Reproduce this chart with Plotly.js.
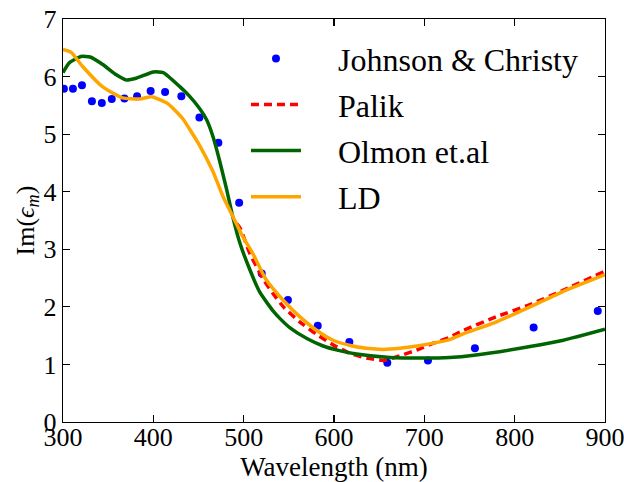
<!DOCTYPE html>
<html>
<head>
<meta charset="utf-8">
<script src="https://cdn.plot.ly/plotly-3.0.1.min.js"></script>
<style>html,body{margin:0;padding:0;background:#fff;}#chart{width:624px;height:482px;}</style>
</head>
<body>
<div id="chart"></div>
<script>
// Johnson & Christy (measured points)
const jcWavelength = [301, 311, 321, 332, 343, 354, 368, 382, 397, 413, 431, 451, 472, 495, 520, 549, 582, 617, 659, 704, 756, 821, 892];
const jcIm = [5.79, 5.79, 5.85, 5.57, 5.54, 5.61, 5.62, 5.66, 5.75, 5.73, 5.66, 5.29, 4.85, 3.81, 2.58, 2.12, 1.67, 1.39, 1.03, 1.07, 1.28, 1.64, 1.93];

// Palik
const palikWavelength = [492, 496, 507, 521, 532, 544, 562, 580, 599, 618, 636, 655, 673, 695, 710, 728, 743, 780, 817, 854, 900];
const palikIm = [3.45, 3.37, 2.92, 2.50, 2.24, 2.00, 1.74, 1.53, 1.34, 1.19, 1.11, 1.07, 1.15, 1.27, 1.37, 1.47, 1.59, 1.83, 2.04, 2.29, 2.62];

// Olmon et.al
const olmonWavelength = [300, 307, 320, 330, 344, 359, 370, 381, 400, 411, 429, 440, 451, 459, 466, 473, 481, 488, 496, 507, 518, 533, 540, 551, 570, 588, 606, 625, 662, 699, 728, 755, 817, 854, 900];
const olmonIm = [6.07, 6.24, 6.35, 6.34, 6.21, 6.03, 5.94, 5.97, 6.08, 6.07, 5.83, 5.66, 5.45, 5.25, 4.96, 4.56, 4.05, 3.56, 3.10, 2.64, 2.25, 1.92, 1.80, 1.64, 1.45, 1.32, 1.24, 1.18, 1.12, 1.11, 1.12, 1.16, 1.31, 1.42, 1.61];

// LD model
const ldWavelength = [300, 309, 322, 344, 366, 385, 398, 416, 432, 451, 466, 477, 488, 499, 510, 525, 544, 562, 581, 599, 618, 636, 655, 673, 692, 710, 728, 743, 780, 817, 854, 900];
const ldIm = [6.47, 6.42, 6.17, 5.82, 5.63, 5.61, 5.65, 5.53, 5.28, 4.81, 4.35, 3.92, 3.57, 3.22, 2.93, 2.47, 2.11, 1.83, 1.59, 1.42, 1.33, 1.28, 1.26, 1.28, 1.32, 1.37, 1.43, 1.53, 1.74, 2.00, 2.27, 2.56];

const xTicks = [300, 400, 500, 600, 700, 800, 900];
const yTicks = [0, 1, 2, 3, 4, 5, 6, 7];
const seriesNames = ['Johnson &amp; Christy', 'Palik', 'Olmon et.al', 'LD'];

const serif = '"Liberation Serif", "Times New Roman", Times, serif';
const pad = '&nbsp;&nbsp;&nbsp;&nbsp;';

const traces = [
  {x: jcWavelength, y: jcIm, name: pad + seriesNames[0], legendgroup: 'g0', mode: 'markers', type: 'scatter',
   marker: {color: '#0000ff', size: 8}},
  {x: palikWavelength, y: palikIm, name: pad + seriesNames[1], legendgroup: 'g1', mode: 'lines', type: 'scatter',
   line: {color: '#ff0000', width: 3.5, dash: '8px,5px', shape: 'spline', smoothing: 0.5}},
  {x: olmonWavelength, y: olmonIm, name: pad + seriesNames[2], legendgroup: 'g2', mode: 'lines', type: 'scatter',
   line: {color: '#006400', width: 3.5, shape: 'spline', smoothing: 0.5}},
  {x: ldWavelength, y: ldIm, name: pad + seriesNames[3], legendgroup: 'g3', mode: 'lines', type: 'scatter',
   line: {color: '#ffa500', width: 3.5, shape: 'spline', smoothing: 0.5}}
];

const axisCommon = {
  showgrid: false, zeroline: false, showline: true, linecolor: '#000', linewidth: 1.3,
  mirror: 'ticks', ticks: 'inside', ticklen: 7, tickwidth: 1.1, tickcolor: '#000',
  tickfont: {family: serif, size: 26, color: '#000'}, ticklabeloverflow: 'allow'
};

const layout = {
  width: 624, height: 482,
  margin: {l: 63, r: 19, t: 19, b: 60},
  paper_bgcolor: '#fff', plot_bgcolor: '#fff',
  font: {family: serif, color: '#000'},
  showlegend: true,
  legend: {x: 0.3376, y: 0.970, xanchor: 'left', yanchor: 'top', bgcolor: 'rgba(0,0,0,0)',
           font: {family: serif, size: 32, color: '#000'}, itemwidth: 50, tracegroupgap: 1.5},
  xaxis: Object.assign({}, axisCommon, {
    range: [299.999, 900.001], tickvals: xTicks, ticktext: xTicks.map(String),
    ticklabelstandoff: -9,
    title: {text: 'Wavelength (nm)', font: {family: serif, size: 27, color: '#000'}, standoff: 2}
  }),
  yaxis: Object.assign({}, axisCommon, {
    range: [0, 7.0001], tickvals: yTicks, ticktext: yTicks.map(String),
    title: {text: 'Im(<i>ϵ</i><sub><i>m</i></sub>)', font: {family: serif, size: 26, color: '#000'}, standoff: 0}
  })
};

Plotly.newPlot('chart', traces, layout, {displayModeBar: false, staticPlot: true});
</script>
</body>
</html>
